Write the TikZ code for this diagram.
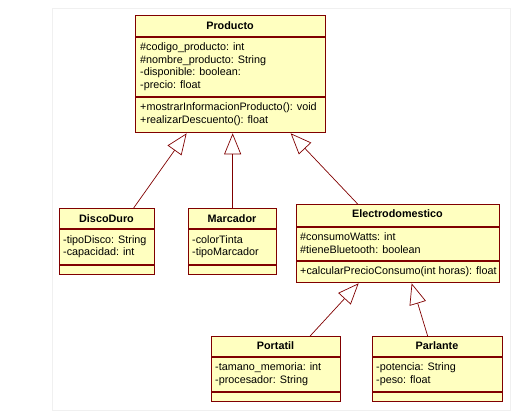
\documentclass[tikz,border=0pt]{standalone}
\usepackage{fontspec}
\setmainfont{Liberation Sans}
\usepackage{tikz}
\usetikzlibrary{arrows.meta}
\usetikzlibrary{positioning}
\definecolor{umlborder}{RGB}{128,0,0}
\definecolor{umlfill}{RGB}{255,255,192}
\newcommand{\umlfont}{\fontsize{10.8}{12.5}\selectfont}

\begin{document}
\begin{tikzpicture}
    [
    x=1pt,y=-1pt,
    classbox/.style={draw=umlborder,fill=umlfill,line width=1.3pt,anchor=north west,inner sep=0pt},
    classname/.style={anchor=base,inner sep=0pt,font=\umlfont\bfseries},
    members/.style={anchor=base west,inner sep=0pt,align=left,font=\umlfont},
    divider/.style={draw=umlborder,line width=1.1pt},
    inherits/.style={draw=umlborder,line width=0.7pt,-{Triangle[open,length=21pt,width=17pt]}},
    ]
    \useasboundingbox (0,0) rectangle (514,411);
    \draw [black!6] (52,8) rectangle (510,410);

    % Producto (anchored at the last line)
    \node (producto) at (135,15) [classbox,minimum width=190pt,minimum height=117pt] {};
    \draw [divider] (135,37) -- (325,37);
    \draw [divider] (135,97) -- (325,97);
    \node (producto-name) at (230,29.5) [classname] {Producto};
    \node (producto-attr) at (140,88.5) [members] {\#codigo\_producto: int\\\#nombre\_producto: String\\-disponible: boolean:\\-precio: float};
    \node (producto-ops) at (140,123.5) [members] {+mostrarInformacionProducto(): void\\+realizarDescuento(): float};

    % DiscoDuro
    \node (discoduro) at (59,208) [classbox,minimum width=95pt,minimum height=66pt] {};
    \draw [divider] (59,229) -- (154,229);
    \draw [divider] (59,265) -- (154,265);
    \node (discoduro-name) at (106.5,222.5) [classname] {DiscoDuro};
    \node (discoduro-attr) at (63,256) [members] {-tipoDisco: String\\-capacidad: int};

    % Marcador
    \node (marcador) at (188,208) [classbox,minimum width=88pt,minimum height=66pt] {};
    \draw [divider] (188,229) -- (276,229);
    \draw [divider] (188,265) -- (276,265);
    \node (marcador-name) at (232,222.5) [classname] {Marcador};
    \node (marcador-attr) at (192,256) [members] {-colorTinta\\-tipoMarcador};

    % Electrodomestico
    \node (electro) at (296,204) [classbox,minimum width=203pt,minimum height=78pt] {};
    \draw [divider] (296,227) -- (499,227);
    \draw [divider] (296,261) -- (499,261);
    \node (electro-name) at (397.5,218) [classname] {Electrodomestico};
    \node (electro-attr) at (300,253.5) [members] {\#consumoWatts: int\\\#tieneBluetooth: boolean};
    \node (electro-ops) at (300,274.5) [members] {+calcularPrecioConsumo(int horas): float};

    % Portatil
    \node (portatil) at (211,336) [classbox,minimum width=129pt,minimum height=65pt] {};
    \draw [divider] (211,357) -- (340,357);
    \draw [divider] (211,392) -- (340,392);
    \node (portatil-name) at (275.5,350) [classname] {Portatil};
    \node (portatil-attr) at (215,383.5) [members] {-tamano\_memoria: int\\-procesador: String};

    % Parlante
    \node (parlante) at (372,336) [classbox,minimum width=130pt,minimum height=65pt] {};
    \draw [divider] (372,357) -- (502,357);
    \draw [divider] (372,392) -- (502,392);
    \node (parlante-name) at (437,350) [classname] {Parlante};
    \node (parlante-attr) at (376,383.5) [members] {-potencia: String\\-peso: float};

    \draw [inherits] ([xshift=26.5pt]discoduro.north) -- ([xshift=-44pt]producto.south);
    \draw [inherits] (marcador.north) -- (marcador.north |- producto.south);
    \draw [inherits] ([xshift=-40.5pt]electro.north) -- ([xshift=60pt]producto.south);
    \draw [inherits] ([xshift=34pt]portatil.north) -- ([xshift=-39.5pt]electro.south);
    \draw [inherits] ([xshift=-10pt]parlante.north) -- ([xshift=13.5pt]electro.south);
  \end{tikzpicture}
\end{document}
